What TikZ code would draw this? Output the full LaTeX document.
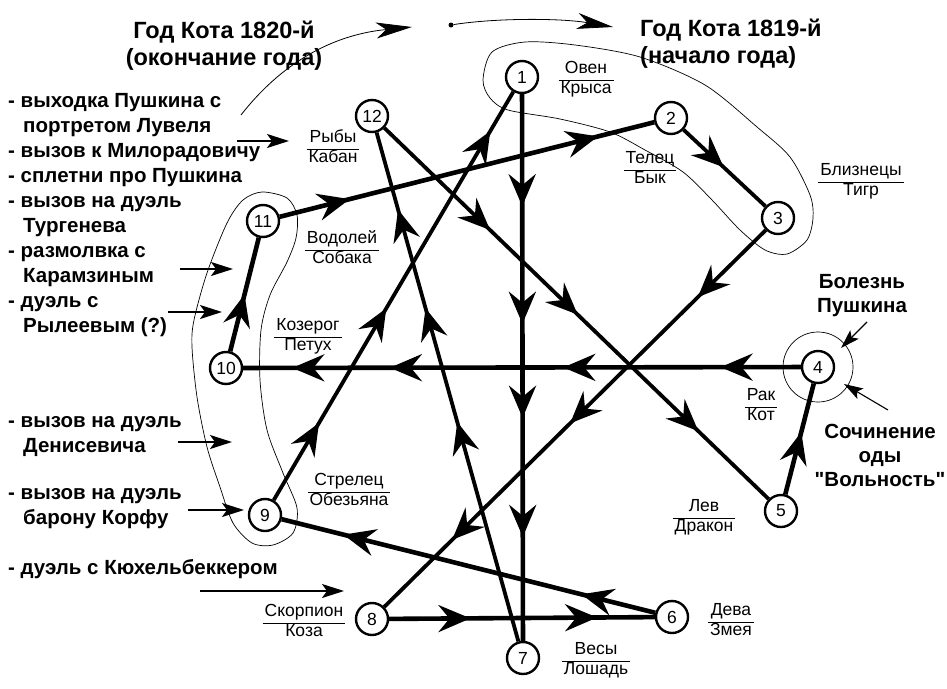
\documentclass[tikz,border=0pt]{standalone}
\usepackage{fontspec}
\setmainfont{Liberation Sans}[Ligatures=TeXOff]
\usetikzlibrary{arrows.meta,decorations.markings}

\newcommand{\zod}[2]{\begin{tabular}{@{\hspace{2pt}}c@{\hspace{2pt}}}#1\\\hline #2\end{tabular}}
\setlength{\arrayrulewidth}{0.8pt}

\begin{document}
\begin{tikzpicture}[
    x=1pt,y=-1pt,
    krug/.style   = {circle, draw, line width=2.4pt, fill=white, minimum size=32pt,
                     inner sep=0pt, font=\fontsize{17.5}{17.5}\selectfont},
    znak/.style   = {inner sep=0pt, font=\fontsize{17.5}{19}\selectfont},
    zag/.style    = {font=\bfseries\fontsize{23.5}{27}\selectfont, inner sep=0pt},
    spisok/.style = {font=\bfseries\fontsize{20.5}{25}\selectfont, align=left,
                     anchor=north west, inner sep=0pt},
    zamet/.style  = {font=\bfseries\fontsize{20.5}{24}\selectfont, align=center,
                     inner sep=0pt},
    put/.style    = {line width=4.6pt},
    put2/.style   = {line width=3.8pt},
    ar/.style     = {postaction={decorate, decoration={markings,
                     mark=at position #1 with {\arrow{Stealth[length=32pt,width=27pt,inset=11pt]}}}}},
    ukaz/.style   = {line width=1.9pt, -{Stealth[length=22pt,width=14pt,inset=5pt]}},
    ukaz2/.style  = {line width=1.1pt, -{Stealth[length=19pt,width=12pt,inset=4pt]}},
    strel/.style  = {line width=0.8pt, -{Stealth[length=36pt,width=16pt,inset=10pt]}},
    kontur/.style = {line width=0.7pt},
  ]
  \useasboundingbox (0,0) rectangle (947,688);

  % zones
  \draw[kontur] plot[smooth cycle] coordinates {(483,80) (492,52) (525,42) (575,45)
      (640,57) (705,85) (757,127) (790,157) (810,195) (813,218) (807,240) (787,254)
      (765,250) (740,230) (712,200) (683,172) (645,150) (610,132) (560,119)
      (508,110) (490,98)};
  \draw[kontur] plot[smooth cycle] coordinates {(243,200) (262,192) (287,198)
      (297,215) (296,238) (287,262) (270,295) (261,330) (260,380) (267,430)
      (283,473) (297,508) (293,533) (273,545) (252,543) (233,523) (220,487)
      (207,447) (197,397) (192,347) (194,320) (207,273) (227,223)};

  % headers
  \node[zag,align=center,anchor=north] (g1820) at (224,21)
       {Год Кота 1820-й\\(окончание года)};
  \node[zag,align=left,anchor=north west] (g1819) at (640,19)
       {Год Кота 1819-й\\(начало года)};
  \node[circle,fill,inner sep=0pt,minimum size=5pt] (tochka) at (451,25) {};
  \coordinate (s1) at (613,27);
  \coordinate (s0) at (241,115);
  \coordinate (s2) at (412,27);
  \draw[strel] (tochka) .. controls (495,18) and (560,18) .. (s1);
  \draw[strel] (s0) .. controls (280,65) and (330,35) .. (s2);

  % years
  \node[krug] (n1)  at (522,77)  {1};
  \node[krug] (n2)  at (671,118) {2};
  \node[krug] (n3)  at (778,218) {3};
  \node[krug] (n4)  at (818,367) {4};
  \node[krug] (n5)  at (781,511) {5};
  \node[krug] (n6)  at (672,617) {6};
  \node[krug] (n7)  at (523,658) {7};
  \node[krug] (n8)  at (372,619) {8};
  \node[krug] (n9)  at (265,515) {9};
  \node[krug] (n10) at (226,368) {10};
  \node[krug] (n11) at (263,221) {11};
  \node[krug] (n12) at (372,116) {12};
  \node[draw,circle,line width=0.7pt,minimum size=70pt] (ring4) at (n4) {};

  \node[znak] (z1)  at (586,80)  {\zod{Овен}{Крыса}};
  \node[znak] (z2)  at (650,170) {\zod{Телец}{Бык}};
  \node[znak] (z3)  at (861,182) {\zod{Близнецы}{Тигр}};
  \node[znak] (z4)  at (761,407) {\zod{Рак}{Кот}};
  \node[znak] (z5)  at (704,518) {\zod{Лев}{Дракон}};
  \node[znak] (z6)  at (731,622) {\zod{Дева}{Змея}};
  \node[znak] (z7)  at (596,661) {\zod{Весы}{Лошадь}};
  \node[znak] (z8)  at (304,623) {\zod{Скорпион}{Коза}};
  \node[znak] (z9)  at (349,492) {\zod{Стрелец}{Обезьяна}};
  \node[znak] (z10) at (308,337) {\zod{Козерог}{Петух}};
  \node[znak] (z11) at (342,250) {\zod{Водолей}{Собака}};
  \node[znak] (z12) at (333,149) {\zod{Рыбы}{Кабан}};

  % cycle
  \draw[put,  ar=.205, ar=.42, ar=.592, ar=.81] (n1) -- (n7);
  \draw[put2, ar=.49]                          (n2) -- (n3);
  \draw[put2, ar=.178, ar=.513, ar=.822]       (n3) -- (n8);
  \draw[put,  ar=.144, ar=.426, ar=.737, ar=.912] (n4) -- (n10);
  \draw[put,  ar=.563]                         (n5) -- (n4);
  \draw[put,  ar=.198, ar=.835]                (n6) -- (n9);
  \draw[put2, ar=.431, ar=.655, ar=.849]       (n7) -- (n12);
  \draw[put,  ar=.306, ar=.783]                (n8) -- (n6);
  \draw[put2, ar=.189, ar=.47, ar=.904]        (n9) -- (n1);
  \draw[put,  ar=.50]                          (n10) -- (n11);
  \draw[put,  ar=.187, ar=.85]                 (n11) -- (n2);
  \draw[put2, ar=.275, ar=.503, ar=.817]       (n12) -- (n5);

  % events
  \node[spisok] (sob1) at (8,93) {- выходка Пушкина с\\
      \hspace*{15pt}портретом Лувеля\\
      - вызов к Милорадовичу\\
      - сплетни про Пушкина\\
      - вызов на дуэль\\
      \hspace*{15pt}Тургенева\\
      - размолвка с\\
      \hspace*{15pt}Карамзиным\\
      - дуэль с\\
      \hspace*{15pt}Рылеевым (?)};
  \node[spisok] (sob2) at (8,416) {- вызов на дуэль\\\hspace*{15pt}Денисевича};
  \node[spisok] (sob3) at (8,488) {- вызов на дуэль\\\hspace*{15pt}барону Корфу};
  \node[spisok] (sob4) at (8,559) {- дуэль с Кюхельбеккером};

  \coordinate (a1) at (237,141); \coordinate (b1) at (289,141);
  \coordinate (a2) at (180,269); \coordinate (b2) at (233,269);
  \coordinate (a3) at (168,312); \coordinate (b3) at (222,312);
  \coordinate (a4) at (178,442); \coordinate (b4) at (232,442);
  \coordinate (a5) at (188,510); \coordinate (b5) at (244,510);
  \coordinate (a6) at (200,591); \coordinate (b6) at (344,591);
  \draw[ukaz] (a1) -- (b1);
  \draw[ukaz] (a2) -- (b2);
  \draw[ukaz] (a3) -- (b3);
  \draw[ukaz] (a4) -- (b4);
  \draw[ukaz] (a5) -- (b5);
  \draw[ukaz] (a6) -- (b6);

  \node[zamet] (bol) at (862,296) {Болезнь\\Пушкина};
  \node[zamet] (oda) at (880,455) {Сочинение\\оды\\"Вольность"};
  \coordinate (c1) at (867,322); \coordinate (d1) at (841,348);
  \coordinate (c2) at (888,410); \coordinate (d2) at (844,384);
  \draw[ukaz2] (c1) -- (d1);
  \draw[ukaz2] (c2) -- (d2);

\end{tikzpicture}
\end{document}
